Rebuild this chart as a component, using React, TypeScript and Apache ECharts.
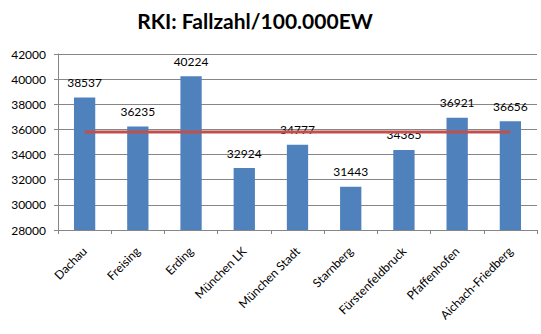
import React, { useEffect, useRef } from "react";
import * as echarts from "echarts";

const categories = [
  "Dachau",
  "Freising",
  "Erding",
  "München LK",
  "München Stadt",
  "Starnberg",
  "Fürstenfeldbruck",
  "Pfaffenhofen",
  "Aichach-Friedberg",
];
const values = [38537, 36235, 40224, 32924, 34777, 31443, 34365, 36921, 36656];
const averageLine = [35787, 35787, 35787, 35787, 35787, 35787, 35787, 35787, 35787];
const titleText = "RKI: Fallzahl/100.000EW";

export default function App() {
  const ref = useRef<HTMLDivElement>(null);
  useEffect(() => {
    if (!ref.current) return;
    const chart = echarts.init(ref.current, null, { renderer: "svg" });
    const font = "Lato, 'Open Sans', sans-serif";
    chart.setOption({
      animation: false,
      backgroundColor: "#ffffff",
      title: {
        text: titleText,
        left: 250,
        top: 5,
        textAlign: "center",
        textStyle: { fontFamily: font, fontWeight: "bold", fontSize: 21, color: "#000" },
      },
      grid: { left: 58, right: 4, top: 54, bottom: 104, containLabel: false },
      xAxis: {
        type: "category",
        data: categories,
        axisLine: { lineStyle: { color: "#868686" } },
        axisTick: { show: true, length: 4, lineStyle: { color: "#868686" } },
        axisLabel: {
          rotate: 45,
          margin: 19,
          interval: 0,
          fontFamily: font,
          fontSize: 12,
          color: "#000",
        },
      },
      yAxis: {
        type: "value",
        min: 28000,
        max: 42000,
        interval: 2000,
        axisLine: { show: true, lineStyle: { color: "#868686" } },
        axisTick: { show: true, inside: false, length: 4, lineStyle: { color: "#868686" } },
        splitLine: { lineStyle: { color: "#868686" } },
        axisLabel: {
          margin: 12,
          fontFamily: font,
          fontSize: 12,
          color: "#000",
          formatter: (v: number) => String(v),
        },
      },
      series: [
        {
          type: "bar",
          data: values,
          barWidth: "40%",
          itemStyle: { color: "#4F81BD" },
          label: {
            show: true,
            position: "top",
            distance: 9,
            fontFamily: font,
            fontSize: 12,
            color: "#000",
          },
        },
        {
          type: "line",
          data: averageLine,
          symbol: "none",
          lineStyle: { color: "#C0504D", width: 3 },
          z: 3,
        },
      ],
    });
    return () => chart.dispose();
  }, []);
  return (
    <div
      ref={ref}
      style={{ position: "fixed", left: 0, top: 0, width: 541, height: 334 }}
    />
  );
}
